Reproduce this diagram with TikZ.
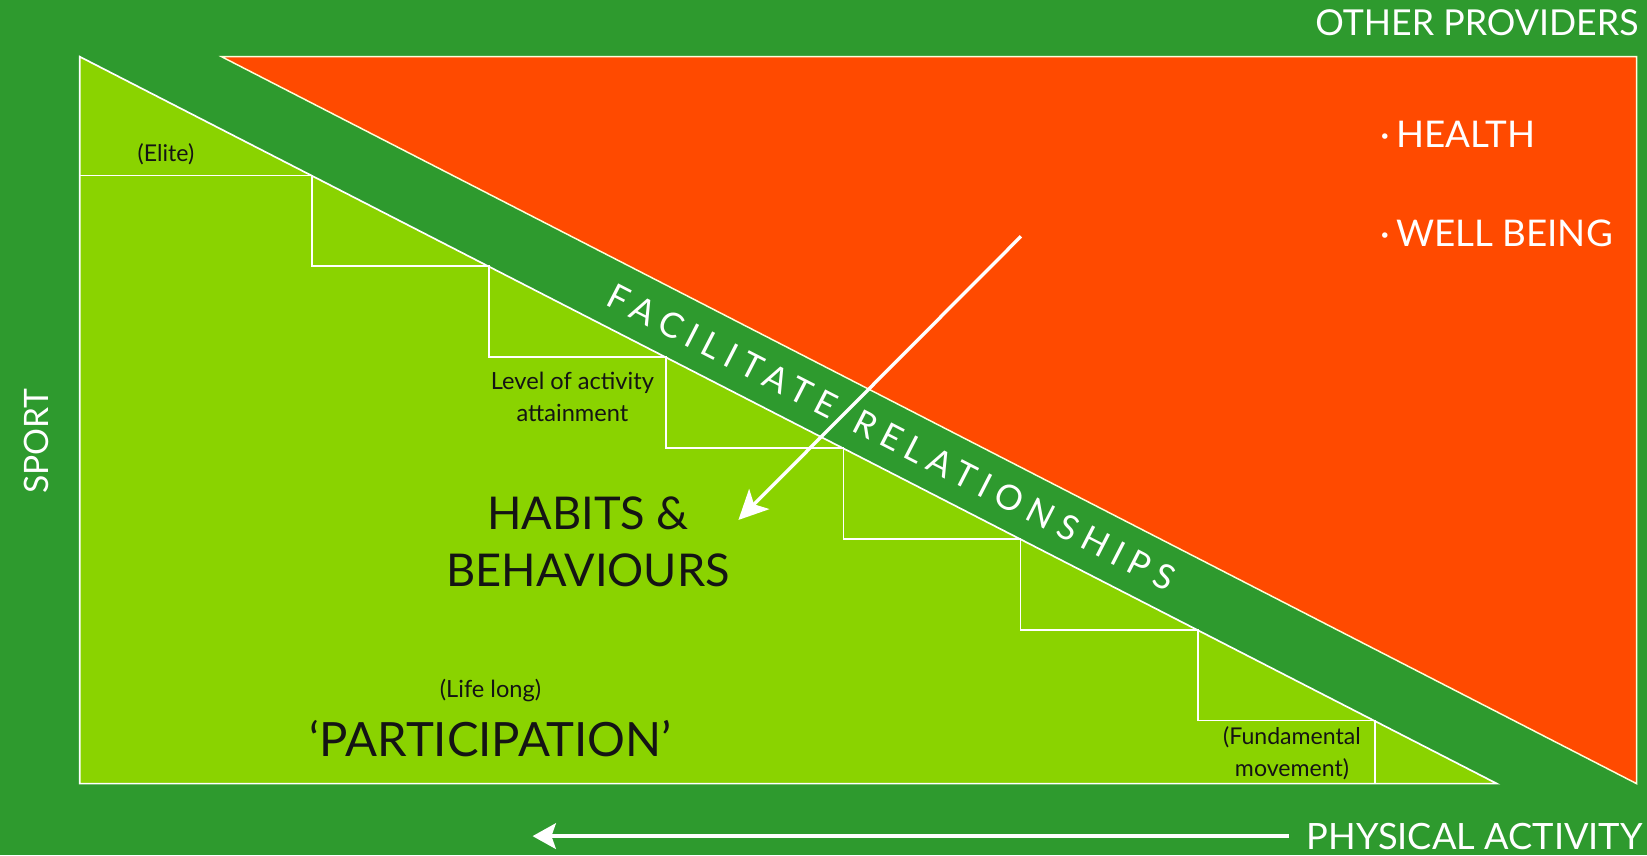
\documentclass[tikz,border=0pt]{standalone}
\usepackage{fontspec}
\setmainfont{Lato}
\usetikzlibrary{arrows.meta}
\definecolor{dkgreen}{RGB}{46,154,46}
\definecolor{ltgreen}{RGB}{138,211,0}
\definecolor{redor}{RGB}{255,74,0}
\definecolor{ink}{RGB}{20,20,20}
\begin{document}
\begin{tikzpicture}[x=1pt,y=-1pt,
  wlab/.style={text=white, inner sep=0pt},
  blab/.style={text=ink, inner sep=0pt, align=center},
  band/.style={text=white, inner sep=0pt, rotate=-27.16, text height=23.6pt, text depth=0pt,
     font=\fontsize{33}{36}\selectfont\addfontfeatures{LetterSpace=23}},
  stairline/.style={draw=white, line width=1.5pt},
  bigarrow/.style={draw=white, line width=3.2pt, -{Stealth[length=28pt,width=27pt,inset=7pt]}},
  basearrow/.style={draw=white, line width=4.5pt, -{Stealth[length=22pt,width=24pt,inset=4pt]}}]
\fill[dkgreen] (0,0) rectangle (1568,814);
\path[use as bounding box] (0,0) rectangle (1568,814);
% red triangle
\filldraw[fill=redor, draw=white!85!yellow, line width=1.4pt] (211,54) -- (1558,54) -- (1558,746) -- cycle;
% light green triangle
\filldraw[fill=ltgreen, draw=white, line width=1.6pt] (76,54) -- (1425,746) -- (76,746) -- cycle;
% staircase
\draw[stairline] (76,167) -- (297,167) -- (297,253.5) -- (465.7,253.5) -- (465.7,340) -- (634.3,340)
  -- (634.3,426.5) -- (803,426.5) -- (803,513) -- (971.7,513) -- (971.7,599.5) -- (1140.3,599.5)
  -- (1140.3,686) -- (1309,686) -- (1309,746);
% band text
\node[band, anchor=east] (fac) at (795,389) {FACILITATE};
\node[band, anchor=west] (rel) at (815,399) {RELATIONSHIPS};
% diagonal arrow
\coordinate (as) at (972,225);
\coordinate (ae) at (703,495);
\draw[bigarrow] (as) -- (ae);
% labels white
\node[wlab, font=\fontsize{34}{36}\selectfont] (op) at (1406,22) {OTHER PROVIDERS};
\node[wlab, anchor=west, font=\fontsize{35}{36}\selectfont] (hl) at (1314,128) {·\,HEALTH};
\node[wlab, anchor=west, font=\fontsize{35}{36}\selectfont] (wb) at (1314,222) {·\,WELL BEING};
\node[wlab, rotate=90, font=\fontsize{32}{36}\selectfont] (sp) at (35,420) {SPORT};
\node[wlab, inner xsep=17pt, font=\fontsize{34.5}{36}\selectfont] (pa) at (1404,796) {PHYSICAL ACTIVITY};
\coordinate (pe) at (507,796);
\draw[basearrow] (pa.west) -- (pe);
% labels black
\node[blab, font=\fontsize{22}{30}\selectfont] (el) at (158,147) {(Elite)};
\node[blab, font=\fontsize{22.5}{30}\selectfont] (lv) at (545,378) {Level of activity\\attainment};
\node[blab, font=\fontsize{43}{54}\selectfont] (hb) at (560,516) {HABITS \&\\BEHAVIOURS};
\node[blab, font=\fontsize{22.5}{30}\selectfont] (ll) at (467,657) {(Life long)};
\node[blab, font=\fontsize{45}{46}\selectfont] (pt) at (467,703) {‘PARTICIPATION’};
\node[blab, font=\fontsize{22}{30}\selectfont] (fm) at (1230,717) {(Fundamental\\movement)};
\end{tikzpicture}
\end{document}
